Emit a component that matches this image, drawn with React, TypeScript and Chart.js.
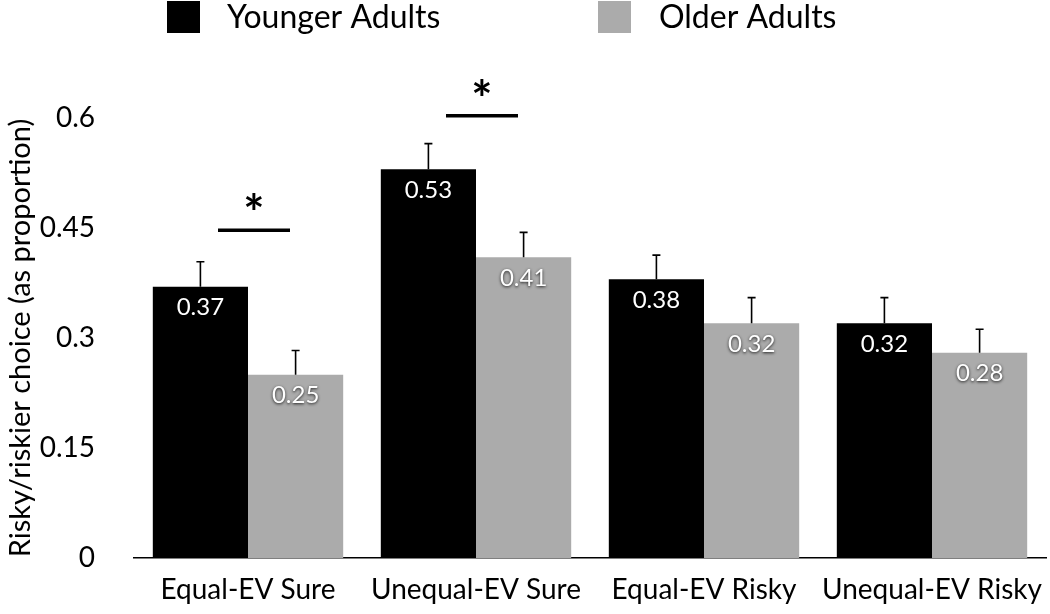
import React, { useEffect, useRef } from "react";
import { Chart, registerables } from "chart.js";

Chart.register(...registerables);

const categories = ["Equal-EV Sure", "Unequal-EV Sure", "Equal-EV Risky", "Unequal-EV Risky"];
const seriesNames = ["Younger Adults", "Older Adults"];
const youngerValues = [0.37, 0.53, 0.38, 0.32];
const olderValues = [0.25, 0.41, 0.32, 0.28];
const youngerSE = [0.034, 0.035, 0.033, 0.035];
const olderSE = [0.033, 0.034, 0.035, 0.032];
const yTickValues = [0, 0.15, 0.3, 0.45, 0.6];
const yTickLabels = ["0", "0.15", "0.3", "0.45", "0.6"];
const sigCategories = [0, 1];
const sigLineLevels = [0.447, 0.603];
const sigStarLevels = [0.486, 0.642];

const FONT = "Lato, 'Open Sans', sans-serif";
const BLACK = "#000000";
const GRAY = "#ababab";

const overlayPlugin = {
  id: "overlay",
  afterDatasetsDraw(chart: any) {
    const ctx = chart.ctx;
    const y = chart.scales.y;
    const x = chart.scales.x;
    const errs = [youngerSE, olderSE];
    const vals = [youngerValues, olderValues];
    ctx.save();
    // error bars
    for (let d = 0; d < 2; d++) {
      const meta = chart.getDatasetMeta(d);
      meta.data.forEach((bar: any, i: number) => {
        const top = y.getPixelForValue(vals[d][i] + errs[d][i]);
        const base = y.getPixelForValue(vals[d][i]);
        ctx.strokeStyle = "#000";
        ctx.lineWidth = 1.6;
        ctx.beginPath();
        ctx.moveTo(bar.x, base);
        ctx.lineTo(bar.x, top);
        ctx.moveTo(bar.x - 4, top);
        ctx.lineTo(bar.x + 4, top);
        ctx.stroke();
      });
    }
    // value labels
    ctx.font = `24px ${FONT}`;
    ctx.textAlign = "center";
    ctx.textBaseline = "middle";
    for (let d = 0; d < 2; d++) {
      const meta = chart.getDatasetMeta(d);
      meta.data.forEach((bar: any, i: number) => {
        ctx.save();
        if (d === 1) {
          ctx.shadowColor = "rgba(0,0,0,0.85)";
          ctx.shadowBlur = 3;
          ctx.shadowOffsetX = 0;
          ctx.shadowOffsetY = 1;
        }
        ctx.fillStyle = "#fff";
        ctx.fillText(vals[d][i].toFixed(2), bar.x, bar.y + 21);
        ctx.restore();
      });
    }
    // significance markers
    sigCategories.forEach((c, k) => {
      const cx = x.getPixelForValue(c) + 6;
      const ly = y.getPixelForValue(sigLineLevels[k]);
      ctx.strokeStyle = "#000";
      ctx.lineWidth = 3.5;
      ctx.beginPath();
      ctx.moveTo(cx - 36, ly);
      ctx.lineTo(cx + 36, ly);
      ctx.stroke();
      const sy = y.getPixelForValue(sigStarLevels[k]);
      ctx.font = `bold 50px ${FONT}`;
      ctx.textAlign = "center";
      ctx.textBaseline = "alphabetic";
      const m = ctx.measureText("*");
      const off = (m.actualBoundingBoxAscent - m.actualBoundingBoxDescent) / 2;
      ctx.fillStyle = "#000";
      ctx.fillText("*", cx, sy + off);
    });
    ctx.restore();
  },
  afterDraw(chart: any) {
    const ctx = chart.ctx;
    ctx.save();
    const items = [
      { box: 167, text: 227, color: BLACK, label: seriesNames[0] },
      { box: 598, text: 659, color: GRAY, label: seriesNames[1] },
    ];
    ctx.font = `32px ${FONT}`;
    ctx.textAlign = "left";
    ctx.textBaseline = "middle";
    items.forEach((it) => {
      ctx.fillStyle = it.color;
      ctx.fillRect(it.box, 1, 33, 32);
      ctx.fillStyle = "#000";
      ctx.fillText(it.label, it.text, 18);
    });
    ctx.restore();
  },
};

export default function App() {
  const ref = useRef<HTMLCanvasElement | null>(null);
  useEffect(() => {
    if (!ref.current) return;
    const chart = new Chart(ref.current, {
      type: "bar",
      data: {
        labels: categories,
        datasets: [
          { label: seriesNames[0], data: youngerValues, backgroundColor: BLACK },
          { label: seriesNames[1], data: olderValues, backgroundColor: GRAY },
        ],
      },
      options: {
        animation: false,
        responsive: false,
        devicePixelRatio: 1,
        layout: { padding: { top: 118, right: 4, left: 0, bottom: 0 } },
        datasets: { bar: { categoryPercentage: 0.835, barPercentage: 1 } },
        plugins: { legend: { display: false }, tooltip: { enabled: false } },
        scales: {
          x: {
            grid: { display: false, drawTicks: false },
            border: { display: true, color: "#000", width: 1.5 },
            ticks: { color: "#000", font: { family: FONT, size: 28 }, padding: 15, maxRotation: 0 },
            afterFit: (s: any) => { s.height = 56; s.paddingLeft = 0; s.paddingRight = 0; },
          },
          y: {
            min: 0,
            max: 0.6,
            grid: { display: false, drawTicks: false },
            border: { display: false },
            afterBuildTicks: (s: any) => { s.ticks = yTickValues.map((v) => ({ value: v })); },
            ticks: {
              color: "#000",
              font: { family: FONT, size: 28 },
              padding: 39,
              callback: (v: any) => { const i = yTickValues.indexOf(Number(v)); return i >= 0 ? yTickLabels[i] : ""; },
            },
            title: {
              display: true,
              text: "Risky/riskier choice (as proportion)",
              color: "#000",
              font: { family: FONT, size: 29 },
              padding: 3,
            },
            afterFit: (s: any) => { s.width = 134; s.paddingTop = 0; s.paddingBottom = 0; },
          },
        },
      },
      plugins: [overlayPlugin],
    });
    return () => chart.destroy();
  }, []);
  return (
    <div style={{ position: "fixed", left: 0, top: 0, width: 1050, height: 614, background: "#fff" }}>
      <canvas ref={ref} width={1050} height={614} />
    </div>
  );
}
